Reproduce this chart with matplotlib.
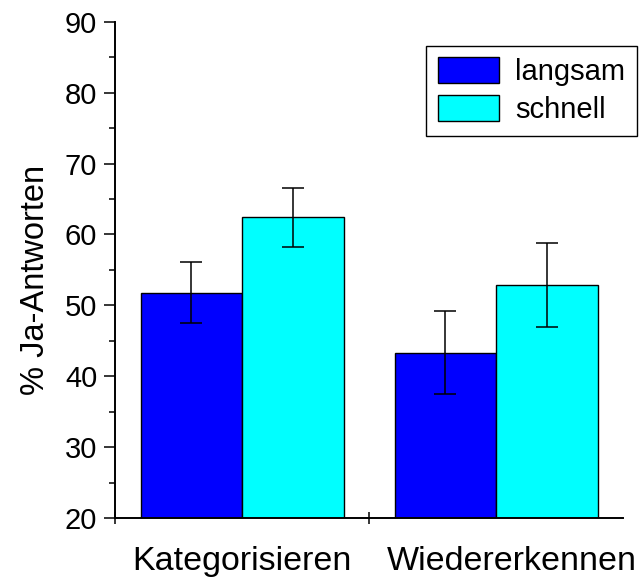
import matplotlib
matplotlib.use("Agg")
import matplotlib.pyplot as plt
import matplotlib.transforms as mtransforms
import numpy as np

categories = ["Kategorisieren", "Wiedererkennen"]
series = ["langsam", "schnell"]
means = {
    "langsam": [51.8, 43.3],
    "schnell": [62.4, 52.9],
}
errors = {
    "langsam": [4.25, 5.85],
    "schnell": [4.2, 5.9],
}
colors = {"langsam": "#0000FF", "schnell": "#00FFFF"}

plt.rcParams["font.family"] = ["Liberation Sans", "DejaVu Sans"]

fig = plt.figure(figsize=(6.39, 5.81), dpi=100)
ax = fig.add_axes([0.1804, 0.1084, 0.795, 0.8542])

x = np.arange(len(categories))
width = 0.4
for i, s in enumerate(series):
    offset = -width / 2 if i == 0 else width / 2
    ax.bar(x + offset, means[s], width, color=colors[s], edgecolor="black",
           linewidth=1.0, label=s, zorder=2)
    ax.errorbar(x + offset, means[s], yerr=errors[s], fmt="none", ecolor="black",
                elinewidth=1.1, capsize=8, capthick=1.1, zorder=3)

ax.set_xlim(-0.5, 1.5)
ax.set_ylim(20, 90)

ax.spines["top"].set_visible(False)
ax.spines["right"].set_visible(False)
ax.spines["left"].set_linewidth(1.4)
ax.spines["bottom"].set_linewidth(1.4)

ax.set_yticks(np.arange(20, 91, 10))
ax.set_yticks(np.arange(25, 90, 10), minor=True)
ax.tick_params(axis="y", which="major", direction="out", length=8, width=1.1,
               labelsize=21, pad=5)
ax.tick_params(axis="y", which="minor", direction="out", length=4.3, width=1.1)

ax.set_xticks([-0.5, 0.5])
ax.set_xticklabels(["", ""])
ax.set_xticks(x, minor=True)
ax.set_xticklabels(categories, minor=True)
ax.tick_params(axis="x", which="major", direction="inout", length=8.6, width=1.1)
ax.tick_params(axis="x", which="minor", length=0, labelsize=24.5, pad=20.5)

# the second category label sits a little to the right in the original
lbl = ax.get_xticklabels(minor=True)[1]
lbl.set_transform(lbl.get_transform()
                  + mtransforms.ScaledTranslation(16 / 100, 0, fig.dpi_scale_trans))

ax.set_ylabel("% Ja-Antworten", fontsize=23.5)
ax.yaxis.set_label_coords(-0.127, 0.48)

leg = ax.legend(loc="upper right", bbox_to_anchor=(637 / 639, 1 - 45.7 / 581),
                bbox_transform=fig.transFigure, fontsize=21, frameon=True,
                fancybox=False, edgecolor="black", framealpha=1,
                handlelength=2.1, handleheight=1.0, handletextpad=0.55,
                labelspacing=0.3, borderpad=0.4, borderaxespad=0)
leg.get_frame().set_linewidth(1.0)

fig.savefig("out.png", dpi=100)
